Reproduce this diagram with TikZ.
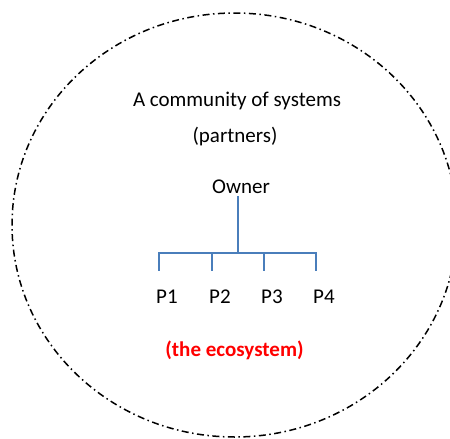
\documentclass[tikz,border=0pt]{standalone}
\usepackage{fontspec}
\setmainfont{Carlito}
\definecolor{treeblue}{HTML}{4A7EBB}
\tikzset{
	label text/.style={font=\fontsize{21}{25}\selectfont, inner sep=0pt, anchor=base},
	eco text/.style={label text, font=\fontsize{21}{25}\selectfont\bfseries, text=red},
	tree line/.style={draw=treeblue, line width=1.6pt},
	eco border/.style={line width=1.5pt, dash pattern=on 7pt off 3.5pt on 1.5pt off 3.5pt}
}
\begin{document}
\begin{tikzpicture}[x=1pt,y=-1pt]
	\useasboundingbox (0,0) rectangle (450,439);
	\clip (0,0) rectangle (450,439);

	% граница экосистемы
	\draw [eco border] (234.5,225) ellipse [x radius=222.5, y radius=212];

	% подписи
	\node [label text] (title) at (237,106) {A community of systems};
	\node [label text] (partners) at (235,142) {(partners)};
	\node [label text] (owner) at (241,193) {Owner};

	% дерево
	\coordinate (bus) at (238,253);
	\draw [tree line] ([yshift=-3pt]owner.south -| bus) -- (bus);
	\foreach \px [count=\i] in {159,212,264,316} {
		\coordinate (d\i) at (\px,253);
		\node [label text, anchor=base west] (p\i) at (\px-3,303) {P\i};
		\draw [tree line] (d\i) -- ([yshift=18pt]d\i |- p\i.north);
	}
	\draw [tree line] ([xshift=-0.8pt]d1) -- ([xshift=0.8pt]d4);

	\node [eco text] (eco) at (234.5,356) {(the ecosystem)};
\end{tikzpicture}
\end{document}
